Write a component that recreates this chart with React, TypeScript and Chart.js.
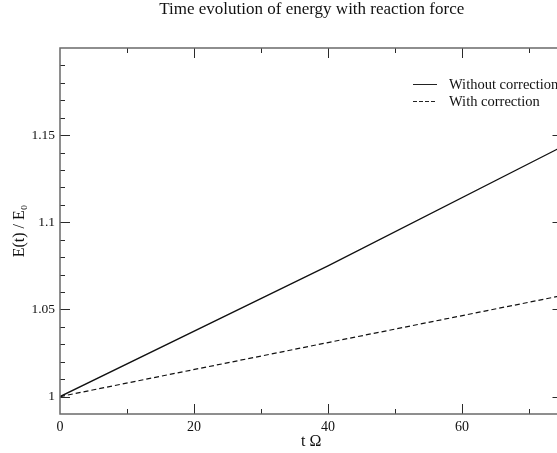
import { useEffect, useRef } from "react";
import { Chart, registerables } from "chart.js";

Chart.register(...registerables);

const chartTitle = "Time evolution of energy with reaction force";
const xAxisTitle = "t Ω";
const yAxisTitle = "E(t) / E₀";
const seriesNames = ["Without correction", "With correction"];

const tValues = [0, 40, 75];
const withoutCorrection = [1, 1.075, 1.1435];
const withCorrection = [1, 1.031, 1.058];

const xMajorTicks = [0, 20, 40, 60];
const xMinorTicks = [10, 30, 50, 70];
const yMajorTicks = [1, 1.05, 1.1, 1.15];
const yMinorTicks = [
  1.01, 1.02, 1.03, 1.04, 1.06, 1.07, 1.08, 1.09, 1.11, 1.12, 1.13, 1.14, 1.16,
  1.17, 1.18, 1.19,
];

const X_MIN = 0;
const X_MAX = 75;
const Y_MIN = 0.99;
const Y_MAX = 1.2;

const FONT = "'Liberation Serif', 'Times New Roman', Times, serif";

const framePlugin = {
  id: "framePlugin",
  afterDraw(chart: any) {
    const { ctx, chartArea } = chart;
    const { left, right, top, bottom } = chartArea;
    const xs = chart.scales.x;
    const ys = chart.scales.y;
    ctx.save();

    // ticks (inward, all four sides)
    ctx.strokeStyle = "#2a2a2a";
    ctx.lineWidth = 1;
    const major = 10;
    const minor = 5;
    const drawX = (v: number, len: number) => {
      const px = Math.round(xs.getPixelForValue(v)) + 0.5;
      if (px <= left + 1 || px >= right - 1) return;
      ctx.beginPath();
      ctx.moveTo(px, bottom);
      ctx.lineTo(px, bottom - len);
      ctx.moveTo(px, top);
      ctx.lineTo(px, top + len);
      ctx.stroke();
    };
    const drawY = (v: number, len: number) => {
      const py = Math.round(ys.getPixelForValue(v)) + 0.5;
      if (py <= top + 1 || py >= bottom - 1) return;
      ctx.beginPath();
      ctx.moveTo(left, py);
      ctx.lineTo(left + len, py);
      ctx.moveTo(right, py);
      ctx.lineTo(right - len, py);
      ctx.stroke();
    };
    xMajorTicks.forEach((v) => drawX(v, major));
    xMinorTicks.forEach((v) => drawX(v, minor));
    yMajorTicks.forEach((v) => drawY(v, major));
    yMinorTicks.forEach((v) => drawY(v, minor));

    // frame
    ctx.strokeStyle = "#6a6a6a";
    ctx.lineWidth = 1.5;
    ctx.strokeRect(left, top, right - left, bottom - top);

    // title
    ctx.fillStyle = "#111";
    ctx.font = `17px ${FONT}`;
    ctx.textAlign = "center";
    ctx.textBaseline = "alphabetic";
    ctx.fillText(chartTitle, (left + right) / 2 + 0.5, 14);

    // legend
    const lx0 = 413;
    const lx1 = 437;
    const rows = [84, 101];
    const dashes = [[], [4, 2]];
    ctx.font = `14.5px ${FONT}`;
    ctx.textAlign = "left";
    ctx.textBaseline = "middle";
    rows.forEach((y, i) => {
      ctx.strokeStyle = "#222";
      ctx.lineWidth = 1;
      ctx.setLineDash(dashes[i]);
      ctx.beginPath();
      ctx.moveTo(lx0, y + 0.5);
      ctx.lineTo(lx1, y + 0.5);
      ctx.stroke();
      ctx.setLineDash([]);
      ctx.fillStyle = "#111";
      ctx.fillText(seriesNames[i], 449, y + 1);
    });
    ctx.restore();
  },
};

export default function App() {
  const ref = useRef<HTMLCanvasElement>(null);

  useEffect(() => {
    if (!ref.current) return;
    const chart = new Chart(ref.current, {
      type: "line",
      data: {
        datasets: [
          {
            label: seriesNames[0],
            data: tValues.map((t, i) => ({ x: t, y: withoutCorrection[i] })),
            borderColor: "#111",
            borderWidth: 1.3,
            pointRadius: 0,
            tension: 0,
            fill: false,
          },
          {
            label: seriesNames[1],
            data: tValues.map((t, i) => ({ x: t, y: withCorrection[i] })),
            borderColor: "#111",
            borderWidth: 1.2,
            borderDash: [5, 3],
            pointRadius: 0,
            tension: 0,
            fill: false,
          },
        ],
      },
      options: {
        responsive: false,
        animation: false,
        layout: { padding: { left: 0, top: 48, right: 37.5, bottom: 0 } },
        plugins: {
          legend: { display: false },
          title: { display: false },
          tooltip: { enabled: false },
        },
        scales: {
          x: {
            type: "linear",
            min: X_MIN,
            max: X_MAX,
            grid: { display: false, drawTicks: false },
            border: { display: false },
            afterBuildTicks: (scale: any) => {
              scale.ticks = xMajorTicks.map((v) => ({ value: v }));
            },
            afterFit: (scale: any) => {
              scale.height = 39;
            },
            ticks: {
              color: "#111",
              padding: 5,
              font: { family: FONT, size: 14 },
              maxRotation: 0,
              autoSkip: false,
              callback: (v: any) => String(v),
            },
            title: {
              display: true,
              text: xAxisTitle,
              color: "#111",
              font: { family: FONT, size: 16 },
              padding: { top: 0, bottom: 2 },
            },
          },
          y: {
            type: "linear",
            min: Y_MIN,
            max: Y_MAX,
            grid: { display: false, drawTicks: false },
            border: { display: false },
            afterBuildTicks: (scale: any) => {
              scale.ticks = yMajorTicks.map((v) => ({ value: v }));
            },
            afterFit: (scale: any) => {
              scale.width = 60;
            },
            ticks: {
              color: "#111",
              padding: 5,
              font: { family: FONT, size: 13.5 },
              autoSkip: false,
              callback: (v: any) => String(v),
            },
            title: {
              display: true,
              text: yAxisTitle,
              color: "#111",
              font: { family: FONT, size: 16 },
              padding: { top: 10, bottom: 0 },
            },
          },
        },
      },
      plugins: [framePlugin],
    });
    return () => chart.destroy();
  }, []);

  return (
    <div
      style={{
        position: "fixed",
        left: 0,
        top: 0,
        width: 557,
        height: 453,
        overflow: "hidden",
        background: "#fff",
      }}
    >
      <canvas ref={ref} width={600} height={453} style={{ display: "block" }} />
    </div>
  );
}
